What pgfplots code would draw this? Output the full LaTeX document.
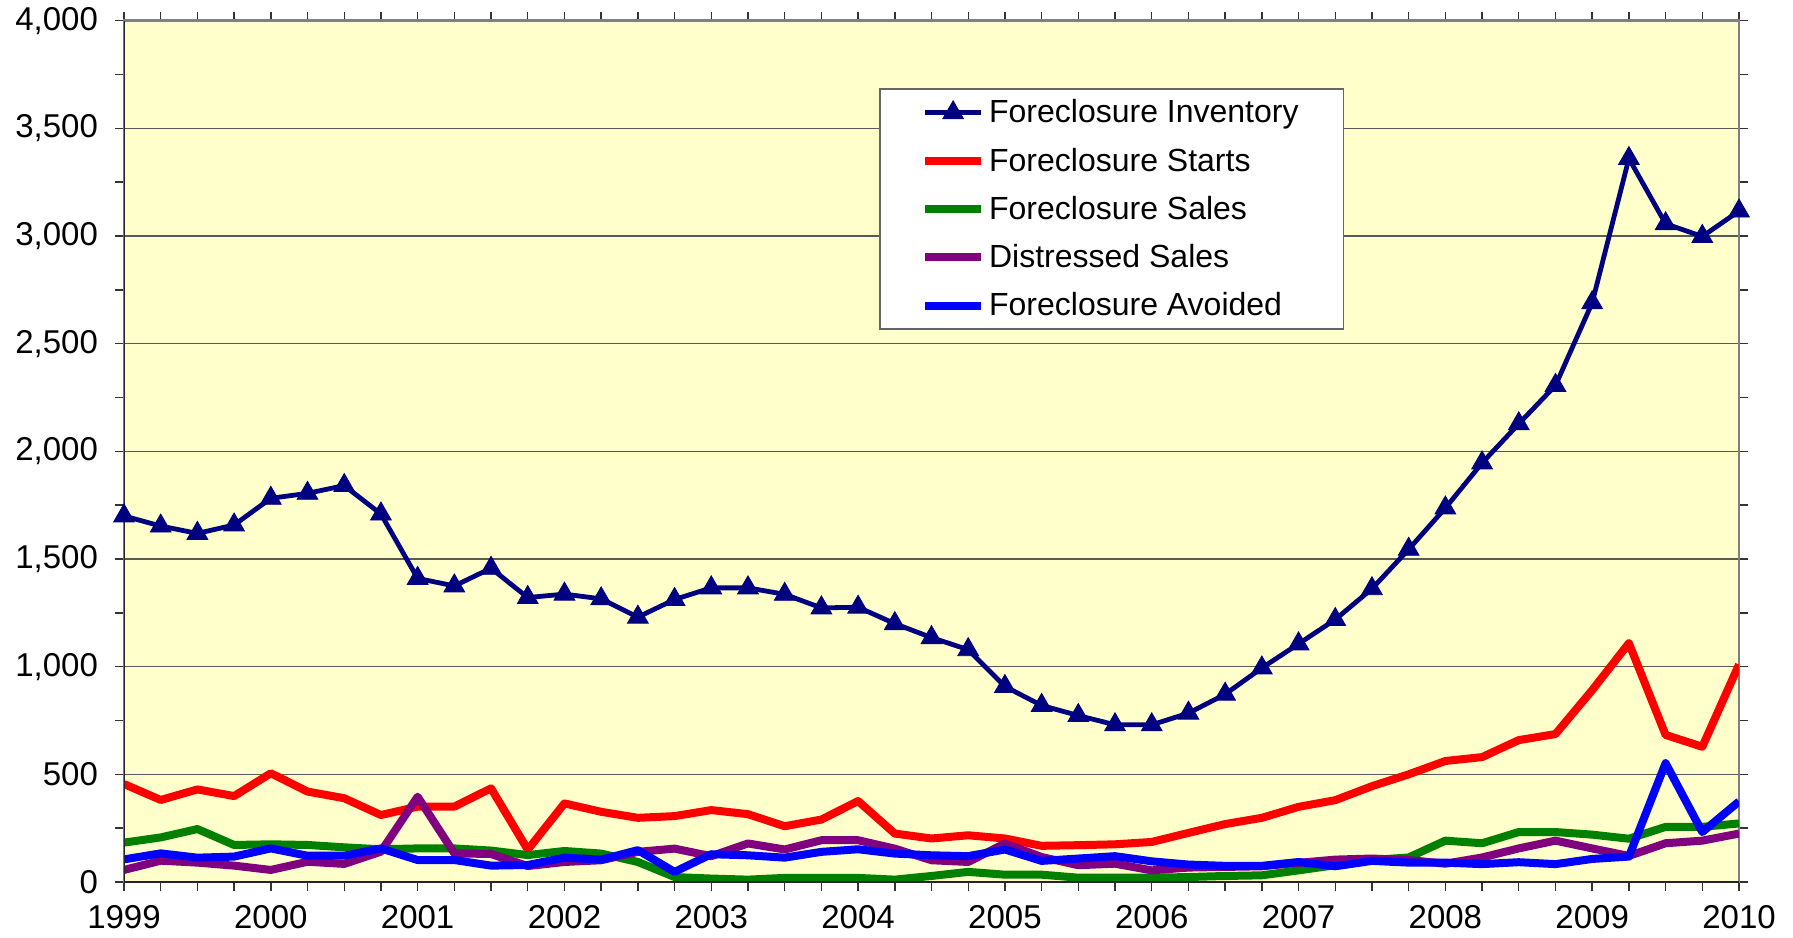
\documentclass[border=0pt]{standalone}
\usepackage{fontspec}
\setmainfont{Liberation Sans}
\usepackage{pgfplots}
\usepackage{pgfplotstable}
\pgfplotsset{compat=1.18}
\definecolor{bgyellow}{HTML}{FFFFCC}
\definecolor{cnavy}{HTML}{000080}
\definecolor{cred}{HTML}{FF0000}
\definecolor{cgreen}{HTML}{008000}
\definecolor{cpurple}{HTML}{800080}
\definecolor{cblue}{HTML}{0000FF}

\pgfplotstableread{
q inv starts sales dist avoid
0 1700 455 183 56 105
1 1653 381 207 99 133
2 1619 430 246 90 113
3 1658 399 172 76 118
4 1782 505 175 56 156
5 1805 420 172 94 122
6 1841 389 161 84 122
7 1709 311 152 141 156
8 1410 350 156 396 102
9 1375 350 156 133 102
10 1457 435 146 130 76
11 1321 150 125 74 79
12 1337 365 144 93 113
13 1315 326 132 101 104
14 1230 298 93 140 148
15 1312 306 23 155 47
16 1366 334 16 120 129
17 1366 315 11 179 124
18 1336 259 19 151 113
19 1273 290 19 194 140
20 1276 376 19 194 152
21 1200 225 11 155 132
22 1135 202 28 101 124
23 1079 217 47 93 120
24 908 202 34 179 151
25 820 168 34 116 98
26 773 171 20 78 109
27 730 175 20 85 120
28 730 186 20 54 96
29 784 228 23 67 81
30 872 269 28 70 75
31 994 298 31 73 75
32 1106 349 54 89 93
33 1219 380 78 104 73
34 1362 445 102 109 98
35 1545 500 114 102 90
36 1737 562 192 85 90
37 1946 580 180 114 83
38 2128 659 232 156 92
39 2306 687 232 192 83
40 2690 891 220 156 107
41 3360 1109 201 121 118
42 3057 683 256 180 552
43 2998 628 256 192 232
44 3116 1010 272 225 374
}\datatable

\begin{document}
\begin{tikzpicture}
\path (-62pt,-27.5pt) rectangle (834.5pt,441pt);
\begin{axis}[
  at={(0pt,0pt)}, anchor=south west,
  scale only axis,
  width=807.5pt, height=430.65pt,
  xmin=0, xmax=44, ymin=0, ymax=4000,
  xtick={0,4,8,12,16,20,24,28,32,36,40,44},
  xticklabels={1999,2000,2001,2002,2003,2004,2005,2006,2007,2008,2009,2010},
  minor x tick num=3,
  ytick={0,500,...,4000},
  minor y tick num=1,
  tick align=outside,
  major tick length=4.5pt,
  minor tick length=4.5pt,
  ymajorgrids,
  major grid style={draw=black!65, line width=0.6pt},
  axis background/.style={fill=bgyellow},
  axis line style={draw=black!50, line width=1.2pt},
  tick style={draw=black!80, line width=0.7pt},
  /pgf/number format/assume math mode=true,
  /pgf/number format/1000 sep={,},
  ticklabel style={font=\fontsize{16.5}{19}\selectfont},
  xticklabel style={yshift=-3.5pt},
  yticklabel style={xshift=-5pt},
  legend style={at={(rel axis cs:0.4677,0.9215)}, anchor=north west,
    fill=white, draw=black!60, line width=0.8pt,
    font=\fontsize{16}{19}\selectfont,
    inner xsep=20.5pt, inner ysep=3.3pt, row sep=7pt,
    cells={anchor=west}},
  legend cell align=left,
  legend image code/.code={\draw[mark repeat=2,mark phase=2,#1] plot coordinates {(0pt,0pt) (14pt,0pt) (28pt,0pt)};},
]
\addplot[color=cnavy, line width=2.4pt, mark=triangle*, mark size=6pt, mark options={solid, fill=cnavy, line width=0.4pt}] table[x=q, y=inv] {\datatable};
\addlegendentry{Foreclosure Inventory}
\addplot[color=cred, line width=4pt, line join=round] table[x=q, y=starts] {\datatable};
\addlegendentry{Foreclosure Starts}
\addplot[color=cgreen, line width=4pt, line join=round] table[x=q, y=sales] {\datatable};
\addlegendentry{Foreclosure Sales}
\addplot[color=cpurple, line width=4pt, line join=round] table[x=q, y=dist] {\datatable};
\addlegendentry{Distressed Sales}
\addplot[color=cblue, line width=4pt, line join=round] table[x=q, y=avoid] {\datatable};
\addlegendentry{Foreclosure Avoided}
\draw[black!85, line width=1.2pt] (rel axis cs:0,1) -- (rel axis cs:0,0) -- (rel axis cs:1,0);
\end{axis}
\end{tikzpicture}
\end{document}
